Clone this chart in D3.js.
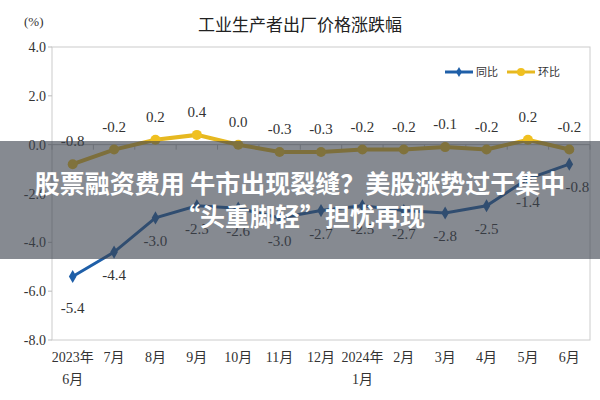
<!DOCTYPE html><html><head><meta charset="utf-8"><script src="https://cdn.jsdelivr.net/npm/d3@7"></script>
<style>body{margin:0;background:#fff}</style></head><body><svg id="c" width="600" height="400"></svg>
<script>
const months=["2023年|6月","7月","8月","9月","10月","11月","12月","2024年|1月","2月","3月","4月","5月","6月"];
const yoy=[-5.4,-4.4,-3.0,-2.5,-2.6,-3.0,-2.7,-2.5,-2.7,-2.8,-2.5,-1.4,-0.8];
const mom=[-0.8,-0.2,0.2,0.4,0.0,-0.3,-0.3,-0.2,-0.2,-0.1,-0.2,0.2,-0.2];
const yTicks=[4,2,0,-2,-4,-6,-8];
const svg=d3.select("#c");
const serif="'Liberation Serif','DejaVu Serif',serif", cjk="'Noto Sans CJK SC',sans-serif";
const x=d3.scaleBand().domain(d3.range(13)).range([52,590]);
const y=d3.scaleLinear().domain([-8,4]).range([340,47]);
const cx=i=>x(i)+x.bandwidth()/2;
svg.append("rect").attr("x",52).attr("y",47).attr("width",538).attr("height",293).attr("fill","none").attr("stroke","#ccc");
svg.append("line").attr("x1",52).attr("x2",590).attr("y1",y(0)).attr("y2",y(0)).attr("stroke","#bbb");
d3.range(14).forEach(i=>svg.append("line").attr("x1",52+i*x.bandwidth()).attr("x2",52+i*x.bandwidth()).attr("y1",y(0)).attr("y2",y(0)+5).attr("stroke","#bbb"));
yTicks.forEach(t=>{svg.append("text").attr("x",46).attr("y",y(t)+5).attr("text-anchor","end").attr("font-family",serif).attr("font-size",14).attr("fill","#333").text(t.toFixed(1));
svg.append("line").attr("x1",48).attr("x2",52).attr("y1",y(t)).attr("y2",y(t)).attr("stroke","#bbb");});
months.forEach((m,i)=>{m.split("|").forEach((s,j)=>svg.append("text").attr("x",cx(i)).attr("y",362+j*22).attr("text-anchor","middle").attr("font-family",serif+","+cjk).attr("font-size",14).attr("fill","#333").text(s));});
svg.append("text").attr("x",300).attr("y",31).attr("text-anchor","middle").attr("font-family",cjk).attr("font-size",17).attr("fill","#222").text("工业生产者出厂价格涨跌幅");
svg.append("text").attr("x",24).attr("y",26).attr("font-family",serif).attr("font-size",13).attr("fill","#333").text("(%)");
const line=d3.line().x((d,i)=>cx(i)).y(d=>y(d));
svg.append("path").datum(mom).attr("d",line).attr("fill","none").attr("stroke","#e6b820").attr("stroke-width",4);
svg.append("path").datum(yoy).attr("d",line).attr("fill","none").attr("stroke","#1f5fa8").attr("stroke-width",3);
mom.forEach((v,i)=>{svg.append("circle").attr("cx",cx(i)).attr("cy",y(v)).attr("r",5).attr("fill","#f0c020");
svg.append("text").attr("x",cx(i)).attr("y",y(v)-18).attr("text-anchor","middle").attr("font-family",serif).attr("font-size",15).attr("fill","#333").text(v.toFixed(1));});
yoy.forEach((v,i)=>{svg.append("path").attr("d",d3.symbol(d3.symbolDiamond,50)()).attr("transform",`translate(${cx(i)},${y(v)})`).attr("fill","#1f5fa8");
svg.append("text").attr("x",cx(i)+(i==12?8:0)).attr("y",y(v)+(i==0?36:28)).attr("text-anchor","middle").attr("font-family",serif).attr("font-size",15).attr("fill","#333").text(v.toFixed(1));});
const lg=svg.append("g").attr("transform","translate(445,72)");
lg.append("line").attr("x1",0).attr("x2",28).attr("stroke","#1f5fa8").attr("stroke-width",3);
lg.append("path").attr("d",d3.symbol(d3.symbolDiamond,30)()).attr("transform","translate(14,0)").attr("fill","#1f5fa8");
lg.append("text").attr("x",31).attr("y",4).attr("font-family",cjk).attr("font-size",11).attr("fill","#333").text("同比");
lg.append("line").attr("x1",62).attr("x2",90).attr("stroke","#e6b820").attr("stroke-width",3);
lg.append("circle").attr("cx",76).attr("r",4).attr("fill","#f0c020");
lg.append("text").attr("x",93).attr("y",4).attr("font-family",cjk).attr("font-size",11).attr("fill","#333").text("环比");
svg.append("rect").attr("x",0).attr("y",141).attr("width",600).attr("height",118).attr("fill","rgba(60,66,78,0.62)");
["股票融资费用 牛市出现裂缝？美股涨势过于集中","“头重脚轻”担忧再现"].forEach((t,j)=>svg.append("text").attr("x",300).attr("y",193+j*33).attr("text-anchor","middle").attr("font-family",cjk).attr("font-weight","bold").attr("font-size",25).attr("fill","#fff").text(t));
</script></body></html>
